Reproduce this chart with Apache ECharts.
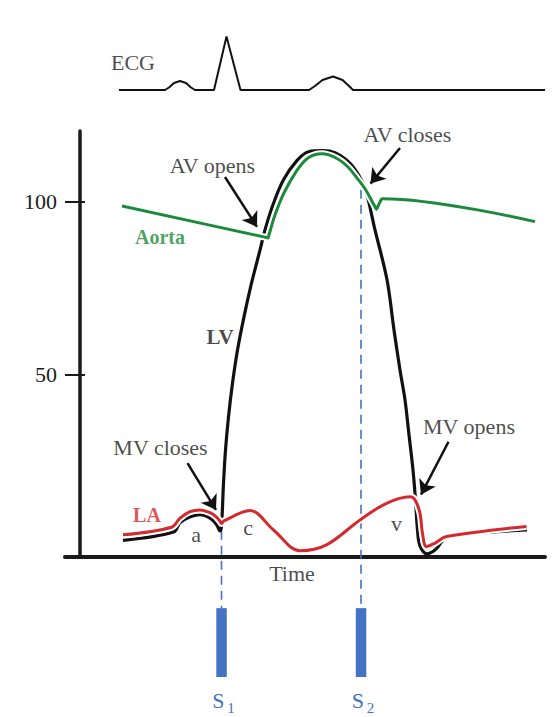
<!DOCTYPE html>
<html>
<head>
<meta charset="utf-8">
<title>Wiggers diagram</title>
<script src="https://cdn.jsdelivr.net/npm/echarts@6/dist/echarts.min.js"></script>
<style>
html, body {margin: 0; padding: 0; background: #fff;}
#chart {width: 557px; height: 717px;}
</style>
</head>
<body>
<div id="chart"></div>
<script>
// time in arbitrary units, pressure in mmHg
var lvPressure = [[8.6,2.2],[18.7,4.6],[20,7.3],[21.7,8.8],[24,9.6],[26,8.6],[27.3,6.8],[28.0,4.9],[28.3,6.4],
  [28.7,18.7],[29.1,28.3],[29.7,37.9],[30.5,47.6],[31.5,57.2],[32.8,66.8],[34.3,76.5],[36,86.1],[37,91.9],
  [38.7,99.6],[40.7,106.4],[43.3,111.8],[45.7,114.5],[48.7,114.8],[51,114.2],[53.3,112.1],[55.2,109],[57,104],
  [59,91.9],[61.4,77.5],[62.8,63],[64,51.4],[65,42.8],[65.8,32.7],[66.6,22.5],[67.1,13.9],[67.5,5.2],
  [68,0.6],[69.4,-1.7],[71,-0.6],[73.4,2.9],[89.4,5.2]];
var laPressure = [[8.6,3.8],[18.3,6.0],[20,8.6],[22,10.5],[24,11],[26,10.2],[27.3,8.9],[28.0,7.7],[28.3,7.1],
  [28.8,7.8],[34,10.8],[38.7,5.2],[44,-0.8],[49.3,0.9],[56,8.1],[61.3,12.9],[66,14.8],[67,13.9],[68,10],
  [68.5,4.2],[69.3,0.4],[71,1.4],[73.3,3.3],[89.3,6.2]];
var aortaPressure = [[8.4,98.8],[37.2,89.75],[37.6,89.6],[37.8,90.5],[39,96.2],[40.8,102.6],[43.2,108.7],
  [45.6,112.7],[48.4,113.9],[51.2,112.7],[53.6,110.1],[55.4,106.9],[57,103.8],[58.9,98.9],[59.3,97.9],
  [59.55,98.6],[60.3,100.8],[60.6,100.95],[91,94.3]];
var ecgTrace = [[7.8,0],[17,0],[17.8,0.05],[18.8,0.14],[20,0.18],[21.2,0.14],[22.2,0.05],[23,0],[26.8,0],
  [29.3,1.07],[32.1,0],[45.8,0],[47,0.08],[48.5,0.2],[50.6,0.27],[52.5,0.2],[53.8,0.08],[54.6,0],[93,0]];

// heart sounds: time and where the dashed marker starts
var soundLabels = ['1', '2'];
var soundTimes = [28.3, 56.2];
var soundTop = [5.0, 103.5];

// y axis ticks
var yTicks = [50, 100];

// annotations
var noteText = ['AV opens', 'AV closes', 'MV closes', 'MV opens', 'Aorta', 'LA', 'LV', 'a', 'c', 'v', 'Time'];
var noteX = [26.5, 65.5, 16.1, 77.8, 16, 13.4, 28, 23.2, 33.6, 63.3, 42.4];
var noteY = [110.4, 119.5, 29.0, 35.0, 89.9, 9.5, 61, 3.8, 5.8, 7.2, -7.5];
var noteKind = ['plain', 'plain', 'plain', 'plain', 'aorta', 'la', 'lv', 'plain', 'plain', 'plain', 'plain'];
var arrowFrom = [[29, 107.2], [64, 115.6], [21.5, 24.5], [73.7, 30.7]];
var arrowTo = [[35.4, 92.8], [58.1, 105.3], [27.2, 11.0], [68.2, 15.4]];

var serif = '"Liberation Serif", "Times New Roman", serif';
var ink = '#1a1a1a';
var green = '#1b8a3a';
var red = '#d42a2f';
var blue = '#4472c4';

var noteStyle = {
  plain: {color: ink, fontSize: 22, fontWeight: 'normal'},
  aorta: {color: green, fontSize: 20, fontWeight: 'bold'},
  la: {color: red, fontSize: 20, fontWeight: 'bold'},
  lv: {color: ink, fontSize: 21, fontWeight: 'bold'}
};
var noteData = noteText.map(function (t, i) {
  var s = noteStyle[noteKind[i]];
  return {value: [noteX[i], noteY[i]], name: t,
    label: {color: s.color, fontSize: s.fontSize, fontWeight: s.fontWeight}};
});
var arrowData = arrowFrom.map(function (p, i) {
  return [{coord: p}, {coord: arrowTo[i]}];
});
var soundData = soundTimes.map(function (t, i) { return [t, soundTop[i]]; });

var chart = echarts.init(document.getElementById('chart'), null, {renderer: 'svg'});

var option = {
  animation: false,
  backgroundColor: '#fff',
  grid: [
    {left: 65, right: 12, top: 131, height: 425.6, containLabel: false, outerBoundsMode: 'none'},
    {left: 65, right: 12, top: 30, height: 70, containLabel: false, outerBoundsMode: 'none'}
  ],
  xAxis: [
    {type: 'value', gridIndex: 0, min: -3, max: 93,
      axisLine: {show: true, onZero: false, lineStyle: {color: ink, width: 4}},
      axisTick: {show: false}, axisLabel: {show: false}, splitLine: {show: false}},
    {type: 'value', gridIndex: 1, min: -3, max: 93, show: false}
  ],
  yAxis: [
    {type: 'value', gridIndex: 0, position: 'left', min: -2.5, max: 120.5,
      axisLine: {show: true, onZero: true, lineStyle: {color: ink, width: 3.5}},
      axisTick: {show: true, inside: false, length: 15, customValues: yTicks, lineStyle: {color: ink, width: 2}},
      axisLabel: {show: true, margin: 8, customValues: yTicks, color: ink, fontSize: 22, fontFamily: serif},
      splitLine: {show: false}},
    {type: 'value', gridIndex: 0, position: 'left', min: -2.5, max: 120.5,
      axisLine: {show: false, onZero: true},
      axisTick: {show: true, inside: true, length: 20, customValues: yTicks, lineStyle: {color: ink, width: 2}},
      axisLabel: {show: false}, splitLine: {show: false}},
    {type: 'value', gridIndex: 1, min: -0.2, max: 1.2, show: false}
  ],
  series: [
    {
      name: 'heart sounds', type: 'custom', xAxisIndex: 0, yAxisIndex: 0, clip: false, z: 1, silent: true,
      data: soundData,
      renderItem: function (params, api) {
        var t = api.value(0);
        var p0 = api.coord([t, api.value(1)]);
        var p1 = api.coord([t, -17.4]);
        var p2 = api.coord([t, -37.3]);
        var pl = api.coord([t, -44.6]);
        return {
          type: 'group',
          children: [
            {type: 'line', shape: {x1: p0[0], y1: p0[1], x2: p1[0], y2: p1[1]},
              style: {stroke: blue, lineWidth: 1.6, lineDash: [9, 6]}},
            {type: 'rect', shape: {x: p1[0] - 5.2, y: p1[1], width: 10.5, height: p2[1] - p1[1]},
              style: {fill: blue}},
            {type: 'text', x: pl[0] + 2, y: pl[1],
              style: {
                text: '{s|S}{n|' + soundLabels[params.dataIndex] + '}',
                align: 'center', verticalAlign: 'middle',
                rich: {
                  s: {fontSize: 22, fontFamily: serif, fill: blue, lineHeight: 20, verticalAlign: 'top'},
                  n: {fontSize: 15, fontFamily: serif, fill: blue, lineHeight: 26, verticalAlign: 'bottom', padding: [0, 0, 0, 3]}
                }
              }}
          ]
        };
      }
    },
    {name: 'LV', type: 'line', data: lvPressure, smooth: 0.35, showSymbol: false, z: 2,
      lineStyle: {color: '#111', width: 3.2}},
    {name: 'LA halo', type: 'line', data: laPressure, smooth: 0.35, showSymbol: false, z: 3,
      lineStyle: {color: '#fff', width: 7}},
    {name: 'LA', type: 'line', data: laPressure, smooth: 0.35, showSymbol: false, z: 4,
      lineStyle: {color: red, width: 3}},
    {name: 'Aorta halo', type: 'line', data: aortaPressure, smooth: 0.35, showSymbol: false, z: 3,
      lineStyle: {color: '#fff', width: 7}},
    {name: 'Aorta', type: 'line', data: aortaPressure, smooth: 0.35, showSymbol: false, z: 4,
      lineStyle: {color: green, width: 3}},
    {name: 'arrows', type: 'line', data: [], z: 5,
      markLine: {silent: true, animation: false, symbol: ['none', 'arrow'], symbolSize: 14,
        label: {show: false}, lineStyle: {color: '#111', width: 2.5, type: 'solid'},
        emphasis: {disabled: true}, data: arrowData}},
    {name: 'notes', type: 'scatter', data: noteData, clip: false, symbolSize: 1, z: 6, silent: true,
      itemStyle: {color: 'rgba(0,0,0,0)'},
      label: {show: true, position: 'inside', formatter: '{b}', fontFamily: serif}},
    {name: 'ECG', type: 'line', xAxisIndex: 1, yAxisIndex: 2, data: ecgTrace, showSymbol: false, smooth: false,
      lineStyle: {color: '#111', width: 2}},
    {name: 'ECG label', type: 'scatter', xAxisIndex: 1, yAxisIndex: 2, data: [{value: [10.6, 0.56], name: 'ECG'}],
      clip: false, symbolSize: 1, silent: true, itemStyle: {color: 'rgba(0,0,0,0)'},
      label: {show: true, position: 'inside', formatter: '{b}', fontFamily: serif, fontSize: 22, color: ink}}
  ]
};
chart.setOption(option);
</script>
</body>
</html>
